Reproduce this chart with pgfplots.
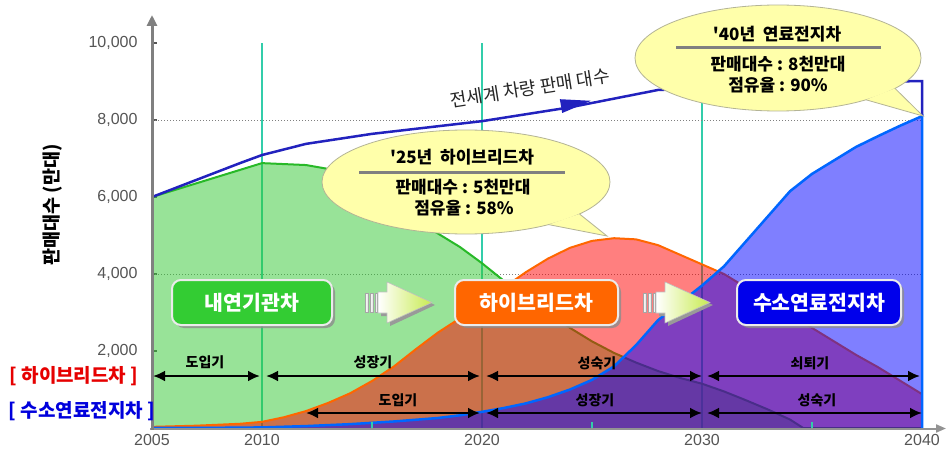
\documentclass[border=0pt]{standalone}
\usepackage{fontspec}
\setmainfont{Liberation Sans}
\newfontfamily\kr{Noto Sans CJK KR}
\usepackage{pgfplots}
\pgfplotsset{compat=1.18}
\usepackage{pgfplotstable}
\usetikzlibrary{arrows.meta,shadows}
\definecolor{tickgray}{RGB}{85,85,85}
\definecolor{axgray}{RGB}{128,128,128}
\definecolor{vline}{RGB}{50,205,170}
\definecolor{gfill}{RGB}{50,200,50}
\definecolor{gline}{RGB}{40,185,40}
\definecolor{hline}{RGB}{255,102,0}
\definecolor{fline}{RGB}{0,102,255}
\definecolor{tline}{RGB}{34,34,190}
\definecolor{bubble}{RGB}{255,255,170}
\definecolor{bubbleedge}{RGB}{180,180,150}
\definecolor{boxgreen}{RGB}{51,204,51}
\definecolor{boxorange}{RGB}{255,102,0}
\definecolor{boxblue}{RGB}{0,0,235}
\definecolor{boxedge}{RGB}{235,235,235}
\definecolor{arrowtip}{RGB}{200,235,80}
\definecolor{kred}{RGB}{230,0,0}
\definecolor{kblue}{RGB}{0,0,220}

\pgfplotstableread{
x y
2005 6000
2010 6880
2012 6830
2013 6730
2014 6450
2015 6100
2016 5750
2017 5400
2018 5050
2019 4700
2020 4280
2021 3820
2022 3400
2023 3000
2024 2600
2025 2250
2026 1950
2027 1700
2028 1480
2029 1300
2030 1150
2031 950
2032 720
2033 480
2034 220
2034.6 0
2040 0
}\ice

\pgfplotstableread{
x y
2005 30
2007 60
2009 110
2010 160
2011 280
2012 440
2013 650
2014 900
2015 1220
2016 1600
2017 2050
2018 2480
2019 2850
2020 3250
2021 3650
2022 4050
2023 4400
2024 4680
2025 4860
2026 4930
2027 4900
2028 4750
2029 4500
2030 4250
2031 4000
2032 3650
2033 3300
2034 2950
2035 2600
2036 2250
2037 1900
2038 1580
2039 1230
2040 880
}\hyb

\pgfplotstableread{
x y
2005 0
2008 5
2010 15
2012 50
2014 100
2016 170
2018 260
2019 330
2020 420
2021 520
2022 640
2023 800
2024 1000
2025 1250
2026 1600
2027 2150
2028 2800
2029 3250
2030 3700
2031 4200
2032 4850
2033 5500
2034 6150
2035 6600
2036 6950
2037 7300
2038 7580
2039 7850
2040 8100
2040 0
}\fc

\pgfplotstableread{
x y
2005 6000
2009 6880
2010 7090
2012 7380
2015 7640
2020 7970
2024 8330
2028 8780
2034 8900
2039.6 9010
2040 9010
2040 8100
}\tot

\newcommand{\fs}[1]{\fontsize{#1}{#1}\selectfont}

\begin{document}
\begin{tikzpicture}
\useasboundingbox (0,0) rectangle (950pt,456pt);
\fill[white] (0,0) rectangle (950pt,456pt);
\begin{axis}[
  at={(152pt,28pt)}, anchor=south west,
  scale only axis, width=770pt, height=385pt,
  xmin=2005, xmax=2040, ymin=0, ymax=10000,
  axis lines=left, axis line style={draw=none},
  clip=false,
  scaled y ticks=false, scaled x ticks=false,
  xtick={2005,2010,2020,2030,2040},
  ytick={2000,4000,6000,8000,10000},
  /pgf/number format/assume math mode=true,
  xticklabel style={/pgf/number format/1000 sep=, font=\fs{16}, text=tickgray, yshift=-3pt},
  yticklabel style={/pgf/number format/1000 sep={,}, font=\fs{16}, text=tickgray, xshift=-11pt},
  xtick style={draw=none},
  ytick style={draw=tickgray, line width=1.2pt},
  tick align=inside, major tick length=5pt,
]
\addplot[vline, line width=1.5pt] coordinates {(2010,0) (2010,10000)};
\addplot[vline, line width=1.5pt] coordinates {(2020,0) (2020,10000)};
\addplot[vline, line width=1.5pt] coordinates {(2030,0) (2030,10000)};
\addplot[gray, dotted, line width=1pt] coordinates {(2005,4000) (2040,4000)};
\addplot[gray, dotted, line width=1pt] coordinates {(2005,8000) (2040,8000)};
\addplot[draw=none, fill=gfill, fill opacity=0.5] table {\ice} \closedcycle;
\addplot[gline, line width=2pt] table {\ice};
\addplot[draw=none, fill=red, fill opacity=0.5] table {\hyb} \closedcycle;
\addplot[hline, line width=2pt] table {\hyb};
\addplot[draw=none, fill=blue, fill opacity=0.5] table {\fc} \closedcycle;
\addplot[fline, line width=2.5pt] table {\fc};
\addplot[tline, line width=2.5pt] table {\tot};
\addplot[vline, line width=1.5pt] coordinates {(2015,0) (2015,160)};
\addplot[vline, line width=1.5pt] coordinates {(2025,0) (2025,160)};
\addplot[vline, line width=1.5pt] coordinates {(2035,0) (2035,160)};
\end{axis}

\begin{scope}[x=1pt,y=-1pt,shift={(0pt,456pt)}]
% axes
\draw[axgray!85, line width=2pt, -{Triangle[length=10pt,width=8pt]}] (150,428.5) -- (946,428.5);
\draw[axgray, line width=3pt, -{Triangle[length=11pt,width=10pt]}] (152,430) -- (152,15);

% y label and left labels
\node[rotate=90, font=\kr\bfseries\fs{18.5}] at (53,205) {판매대수 (만대)};
\node[text=kred, font=\kr\bfseries\fs{19}] at (74,376) {[ 하이브리드차 ]};
\node[text=kblue, font=\kr\bfseries\fs{19}] at (82,411) {[ 수소연료전지차 ]};

% total line arrow and label
\fill[tline] (559.8,99.2) -- (591,100.8) -- (562.2,113) -- cycle;
\node[rotate=9, font=\kr\fs{18}, text=black!85] at (530,88) {전세계 차량 판매 대수};

% category boxes
\tikzset{cbox/.style={rounded corners=9pt, minimum height=45pt, draw=boxedge, line width=2pt, text=white, font=\kr\bfseries\fs{20.5}, drop shadow={shadow xshift=3pt, shadow yshift=-3pt, fill=black!45, opacity=0.8}, inner sep=0pt}}
\node[cbox, fill=boxgreen, minimum width=160pt] at (252,302.5) {내연기관차};
\node[cbox, fill=boxorange, minimum width=163pt] at (536.5,302.5) {하이브리드차};
\node[cbox, fill=boxblue, minimum width=164pt] at (819,302.5) {수소연료전지차};

% gradient arrows
\foreach \xo in {365,643} {
  \begin{scope}[shift={(\xo,0)}]
    \fill[black!40] (16,295) -- (25,295) -- (25,285) -- (70,305) -- (25,326) -- (25,316) -- (16,316) -- cycle;
    \shade[left color=white, right color=gray!25, draw=gray!70, line width=0.6pt] (0,293) rectangle (3,312);
    \shade[left color=white, right color=gray!25, draw=gray!70, line width=0.6pt] (5,293) rectangle (8,312);
    \shade[left color=white, right color=gray!25, draw=gray!70, line width=0.6pt] (10,293) rectangle (12,312);
    \shade[left color=white, right color=arrowtip, draw=gray!50, line width=0.6pt] (13,292) -- (22,292) -- (22,282) -- (67,302.5) -- (22,323) -- (22,313) -- (13,313) -- cycle;
  \end{scope}
}

% period arrows
\tikzset{parrow/.style={line width=2.8pt, {Latex[length=12pt,width=11pt]}-{Latex[length=12pt,width=11pt]}},
  plab/.style={font=\kr\bfseries\fs{14}}}
\draw[parrow] (153,376) -- (260,376);
\draw[parrow] (266,376) -- (480,376);
\draw[parrow] (486,376) -- (702,376);
\draw[parrow] (707,376) -- (920,376);
\draw[parrow] (306,413) -- (480,413);
\draw[parrow] (486,413) -- (702,413);
\draw[parrow] (707,413) -- (922,413);
\node[plab] at (205,362) {도입기};
\node[plab] at (373,362) {성장기};
\node[plab] at (597,363) {성숙기};
\node[plab] at (810,363) {쇠퇴기};
\node[plab] at (398,400) {도입기};
\node[plab] at (595,400) {성장기};
\node[plab] at (817,400) {성숙기};

% bubble 1
\draw[bubbleedge, fill=bubble, line width=0.8pt] (466,182) ellipse [x radius=144, y radius=52];
\fill[bubble] (579.5,214) -- (607,236) -- (548.6,224.6) -- cycle;
\draw[bubbleedge, line width=0.8pt] (579.5,214) -- (607,236) -- (548.6,224.6);
\node[font=\kr\bfseries\fs{17}] at (462,157) {'25년\ \ 하이브리드차};
\draw[gray, line width=3pt] (359,172) -- (565,172);
\node[font=\kr\bfseries\fs{17}] at (463,187) {판매대수 : 5천만대};
\node[font=\kr\bfseries\fs{17}] at (464,208) {점유율 : 58\%};

% bubble 2
\draw[bubbleedge, fill=bubble, line width=0.8pt] (778,58) ellipse [x radius=143, y radius=53];
\fill[bubble] (895,88.4) -- (923,116) -- (866,99.8) -- cycle;
\draw[bubbleedge, line width=0.8pt] (895,88.4) -- (923,116) -- (866,99.8);
\node[font=\kr\bfseries\fs{17}] at (777,34) {'40년\ \ 연료전지차};
\draw[gray, line width=3pt] (676,48) -- (881,48);
\node[font=\kr\bfseries\fs{17}] at (778,64.5) {판매대수 : 8천만대};
\node[font=\kr\bfseries\fs{17}] at (778,85.5) {점유율 : 90\%};
\end{scope}
\end{tikzpicture}
\end{document}
